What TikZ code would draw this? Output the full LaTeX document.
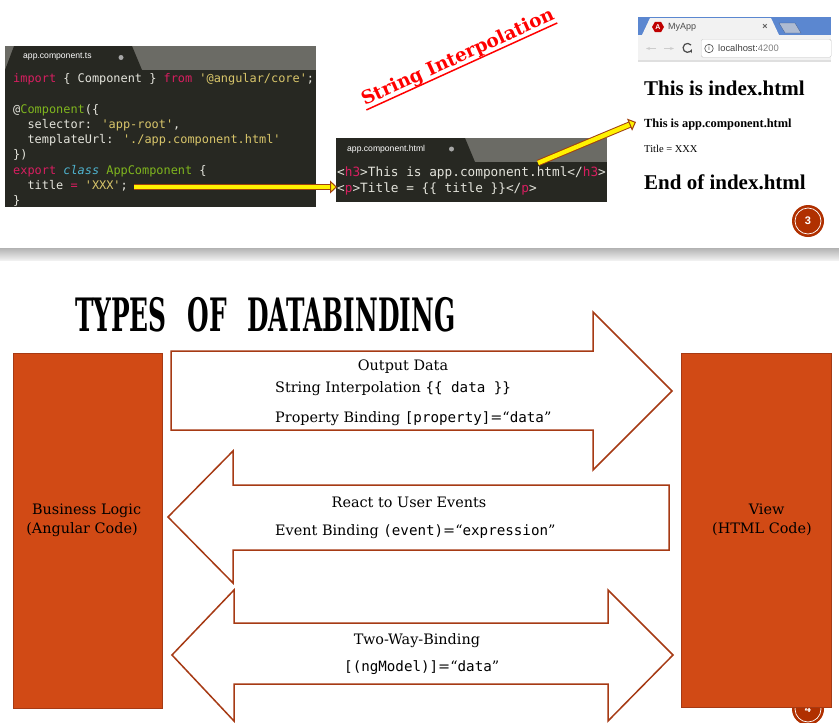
\documentclass[tikz,border=0pt]{standalone}
\usepackage{fontspec}
\setmainfont{Liberation Serif}
\newfontfamily\slabfont{DejaVu Serif}
\newfontfamily\narrowfont{DejaVu Serif Condensed}
\newfontfamily\codefont{DejaVu Sans Mono}
\newfontfamily\tabfont{Liberation Sans}
\usetikzlibrary{arrows.meta, positioning, shapes.geometric}
\definecolor{EditorDark}{HTML}{272822}
\definecolor{EditorBar}{HTML}{6B6B65}
\definecolor{CodeWhite}{HTML}{E4E4DC}
\definecolor{CodePink}{HTML}{D81E60}
\definecolor{CodeGreen}{HTML}{7FB51E}
\definecolor{CodeYellow}{HTML}{D8C56A}
\definecolor{CodeBlue}{HTML}{4FB4D0}
\definecolor{ChromeBlue}{HTML}{5B87D0}
\definecolor{ChromeTab}{HTML}{F2F2F2}
\definecolor{ChromeTabOff}{HTML}{AEBBD2}
\definecolor{SlideOrange}{HTML}{D14A15}
\definecolor{SlideRust}{HTML}{A63A14}
\definecolor{BadgeRed}{HTML}{B03000}
\definecolor{ArrowBrown}{HTML}{A04010}
\tikzset{
  editorbox/.style={fill=EditorDark, inner sep=0pt, anchor=north west},
  codeline/.style={anchor=base west, inner sep=0pt, text=CodeWhite, font=\codefont\fontsize{11.9}{13}\selectfont},
  htmlline/.style={anchor=base west, inner sep=0pt, text=CodeWhite, font=\codefont\fontsize{12.75}{14}\selectfont},
  tablabel/.style={anchor=west, inner sep=0pt, text=white, font=\tabfont\fontsize{8.6}{10}\selectfont},
  pagetext/.style={anchor=base west, inner sep=0pt, text=black},
  slabtext/.style={inner sep=0pt, text=black, font=\slabfont\fontsize{14.4}{19}\selectfont},
  slidebox/.style={fill=SlideOrange, draw=SlideRust, line width=0.8pt, inner sep=0pt, anchor=north west},
  blockarrow/.style={draw=SlideRust, line width=1.5pt, fill=white, line join=miter},
  yellowarrow/.style={draw=ArrowBrown, double=yellow, double distance=4.4pt, line width=1pt,
    -{Triangle[fill=yellow, length=7pt, width=13pt, line width=1pt]}},
  badge/.style={circle, fill=BadgeRed, draw=white, line width=0.7pt, minimum size=26pt, inner sep=0pt,
    text=white, font=\tabfont\bfseries\fontsize{11}{12}\selectfont},
  badgering/.style={circle, fill=BadgeRed, minimum size=32pt, inner sep=0pt},
}
\newcommand{\monotext}[1]{{\codefont\fontsize{14.2}{16}\selectfont #1}}
\begin{document}
\begin{tikzpicture}[x=1pt, y=-1pt]
  \useasboundingbox (0,0) rectangle (839,723);
  \fill[white] (0,0) rectangle (839,723);

  % ts editor
  \node (tsedit) [editorbox, minimum width=311pt, minimum height=161pt] at (5,46) {};
  \fill[EditorBar] (5,46) rectangle (316,70);
  \fill[EditorDark] (5,70) -- (14,46) -- (132,46) -- (142,70) -- cycle;
  \node (tstab) [tablabel] at (23,57) {app.component.ts};
  \fill[gray!70] (121,57.5) circle (2.5);
  \node (tsline1) [codeline] at (13,82) {\textcolor{CodePink}{import} \{ Component \} \textcolor{CodePink}{from} \textcolor{CodeYellow}{'@angular/core'};};
  \node (tsline2) [codeline] at (13,113) {@\textcolor{CodeGreen}{Component}(\{};
  \node (tsline3) [codeline] at (13,128) {\ \ selector: \textcolor{CodeYellow}{'app-root'},};
  \node (tsline4) [codeline] at (13,143) {\ \ templateUrl: \textcolor{CodeYellow}{'./app.component.html'}};
  \node (tsline5) [codeline] at (13,158) {\})};
  \node (tsline6) [codeline] at (13,174) {\textcolor{CodePink}{export} \textcolor{CodeBlue}{\itshape class} \textcolor{CodeGreen}{AppComponent} \{};
  \node (tsline7) [codeline] at (13,189) {\ \ title \textcolor{CodePink}{=} \textcolor{CodeYellow}{'XXX'};};
  \node (tsline8) [codeline] at (13,204) {\}};

  % html editor
  \node (htmledit) [editorbox, minimum width=271pt, minimum height=64pt] at (336,138) {};
  \fill[EditorBar] (336,138) rectangle (607,162);
  \fill[EditorDark] (336,162) -- (336,138) -- (465,138) -- (475,162) -- cycle;
  \node (htmltab) [tablabel] at (347,149) {app.component.html};
  \fill[gray!70] (451.5,149) circle (2.5);
  \node (htmlline1) [htmlline] at (337,176) {<\textcolor{CodePink}{h3}>This is app.component.html</\textcolor{CodePink}{h3}>};
  \node (htmlline2) [htmlline] at (337,192) {<\textcolor{CodePink}{p}>Title = \{\{ title \}\}</\textcolor{CodePink}{p}>};

  % browser
  \fill[ChromeBlue] (638,17) rectangle (831,35);
  \fill[ChromeTab] (638,35) rectangle (831,60);
  \fill[ChromeTab] (642,35) -- (650,18) -- (771,18) -- (779,35) -- cycle;
  \fill[ChromeTabOff, draw=ChromeBlue!70!black, line width=0.3pt] (779,23) -- (795,23) -- (801,33) -- (785,33) -- cycle;
  \fill[gray!25] (638,60) rectangle (831,62);
  \node (favicon) [regular polygon, regular polygon sides=6, fill=red!75!black, inner sep=0pt, minimum size=12pt,
    text=white, font=\tabfont\bfseries\fontsize{7}{8}\selectfont] at (658,27) {A};
  \node (apptitle) [anchor=west, inner sep=0pt, text=black!70, font=\tabfont\fontsize{9}{10}\selectfont] at (668,27) {MyApp};
  \node (tabclose) [inner sep=0pt, text=black!65, font=\tabfont\bfseries\fontsize{9}{10}\selectfont] at (765,27) {×};
  \draw[gray!40, line width=1pt, -{Stealth[length=4pt]}] (656,48.5) -- (646,48.5);
  \draw[gray!40, line width=1pt, -{Stealth[length=4pt]}] (664,48.5) -- (674,48.5);
  \draw[black!70, line width=1.2pt, -{Stealth[length=3.5pt]}] (691,45) arc (-40:-340:4.5);
  \node (addressbar) [draw=gray!45, fill=white, rounded corners=1.5pt, anchor=north west, minimum width=130pt, minimum height=18pt, inner sep=0pt] at (701,39) {};
  \node (infoicon) [circle, draw=black!70, line width=0.6pt, inner sep=0pt, minimum size=8.5pt,
    text=black!70, font=\tabfont\fontsize{6.5}{7}\selectfont] at (709,48.5) {i};
  \node (address) [anchor=west, inner sep=0pt, font=\tabfont\fontsize{9.4}{11}\selectfont, text=black!75] at (718,48.5) {localhost:\textcolor{gray}{4200}};
  \node (indextop) [pagetext, font=\bfseries\fontsize{21}{24}\selectfont] at (644,95) {This is index.html};
  \node (apphead) [pagetext, font=\bfseries\fontsize{12.4}{14}\selectfont] at (644,127) {This is app.component.html};
  \node (apptext) [pagetext, font=\fontsize{10.5}{12}\selectfont] at (644,152) {Title = XXX};
  \node (indexend) [pagetext, font=\bfseries\fontsize{21}{24}\selectfont] at (644,189) {End of index.html};

  % heading and links between the code
  \node (strtitle) [inner sep=0pt, rotate=24.5, text=red, font=\slabfont\bfseries\fontsize{18.5}{21}\selectfont] at (458,58) {String Interpolation};
  \draw[red, line width=1.5pt] (strtitle.south west) -- (strtitle.south east);
  \coordinate (titlevalue) at (134,187);
  \coordinate (ptag) at (337,187);
  \coordinate (htmlname) at (538,163);
  \coordinate (apptag) at (636,122);
  \draw[yellowarrow] (titlevalue) -- (ptag);
  \draw[yellowarrow] (htmlname) -- (apptag);
  \node (badge3back) [badgering] at (808,221) {};
  \node (badge3) [badge] at (808,221) {3};

  % slide divider
  \shade[top color=black!30, bottom color=black!6] (0,248) rectangle (839,260);

  % second slide
  \node (bindtitle) [anchor=west, inner sep=0pt, xscale=0.6, text=black, font=\narrowfont\bfseries\fontsize{46}{50}\selectfont] at (75,315) {TYPES\hspace{20pt} OF\hspace{20pt} DATABINDING};
  \node (badge4back) [badgering] at (808,709) {};
  \node (badge4) [badge] at (808,709) {4};
  \node (logicbox) [slidebox, minimum width=149pt, minimum height=354.5pt] at (13,353) {};
  \node (viewbox) [slidebox, minimum width=150pt, minimum height=353.5pt] at (681,353) {};
  \node (logictext) [slabtext, align=center] at (82,520) {\ \ Business Logic\\(Angular Code)};
  \node (viewtext) [slabtext, align=center] at (762,520) {\ \ View\\(HTML Code)};

  \draw[blockarrow] (171,351) -- (593,351) -- (593,312) -- (672,391) -- (593,470) -- (593,430) -- (171,430) -- cycle;
  \draw[blockarrow] (669,485) -- (233,485) -- (233,451) -- (168,517) -- (233,583) -- (233,550) -- (669,550) -- cycle;
  \draw[blockarrow] (172,655) -- (234,590) -- (234,623) -- (608,623) -- (608,590) -- (673,655) -- (608,721) -- (608,684) -- (234,684) -- (234,721) -- cycle;

  \node (outlabel) [slabtext] at (403,367) {Output Data};
  \node (strlabel) [slabtext, anchor=base west] at (275,392) {String Interpolation \monotext{\{\{ data \}\}}};
  \node (proplabel) [slabtext, anchor=base west] at (275,422) {Property Binding \monotext{[property]}=“\monotext{data}”};
  \node (reactlabel) [slabtext] at (409,502) {React to User Events};
  \node (eventlabel) [slabtext, anchor=base west] at (275,535) {Event Binding \monotext{(event)}=“\monotext{expression}”};
  \node (twowaylabel) [slabtext] at (417,641) {Two-Way-Binding};
  \node (ngmodellabel) [slabtext, anchor=base west] at (344,671) {\monotext{[(ngModel)]}=“\monotext{data}”};
\end{tikzpicture}
\end{document}
